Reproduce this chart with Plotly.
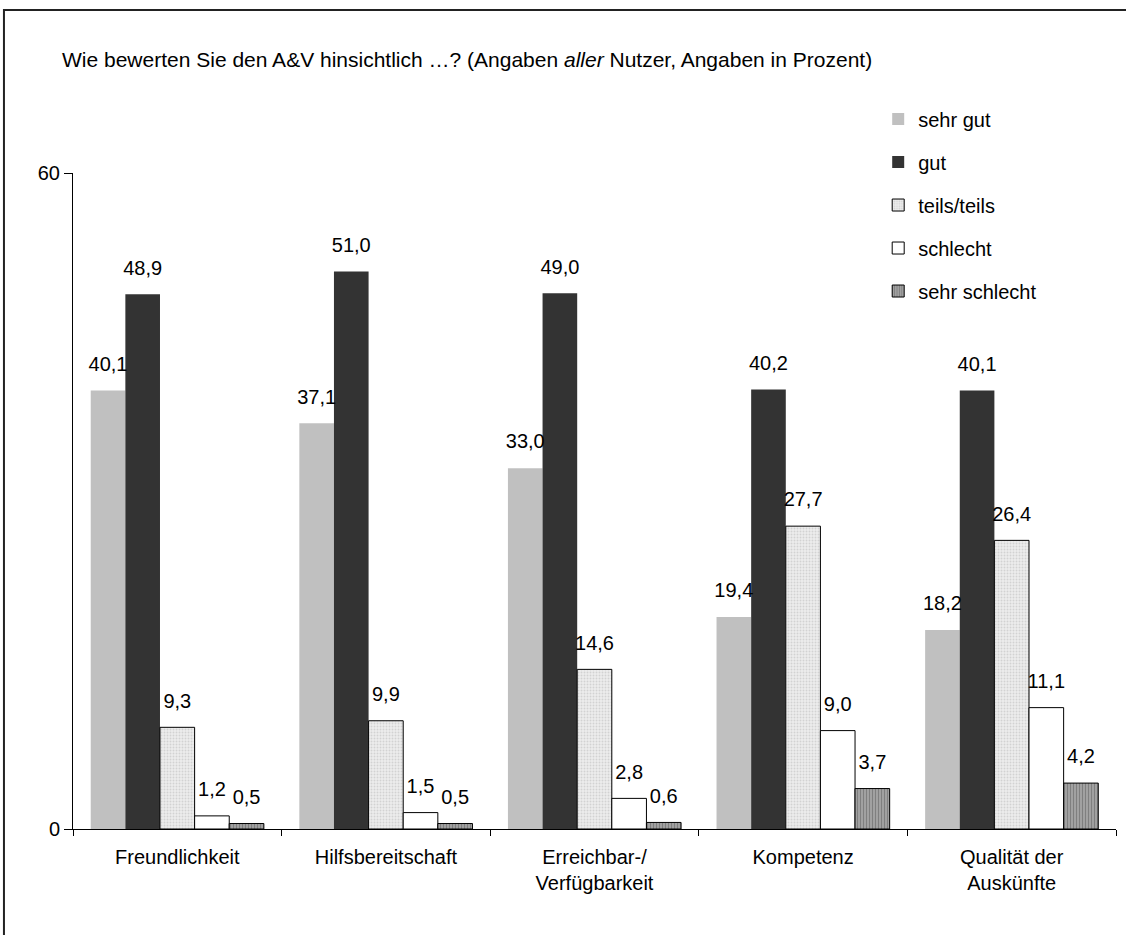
import plotly.graph_objects as go

categories = ["Freundlichkeit", "Hilfsbereitschaft", "Erreichbar-/<br>Verfügbarkeit",
              "Kompetenz", "Qualität der<br>Auskünfte"]
series_names = ["sehr gut", "gut", "teils/teils", "schlecht", "sehr schlecht"]
sehr_gut = [40.1, 37.1, 33.0, 19.4, 18.2]
gut = [48.9, 51.0, 49.0, 40.2, 40.1]
teils_teils = [9.3, 9.9, 14.6, 27.7, 26.4]
schlecht = [1.2, 1.5, 2.8, 9.0, 11.1]
sehr_schlecht = [0.5, 0.5, 0.6, 3.7, 4.2]
y_ticks = [0, 60]

FONT = "Arial, 'Liberation Sans', sans-serif"
GAP = 0.17

styles = [
    dict(color="#c0c0c0", line=dict(width=0)),
    dict(color="#333333", line=dict(width=0)),
    dict(color="#ececec", line=dict(color="black", width=1),
         pattern=dict(shape=".", fgcolor="#b8b8b8", bgcolor="#ececec", size=3, solidity=0.3)),
    dict(color="white", line=dict(color="black", width=1)),
    dict(color="#8a8a8a", line=dict(color="black", width=1),
         pattern=dict(shape="|", fgcolor="#5a5a5a", bgcolor="#a4a4a4", size=3, solidity=0.4)),
]

all_values = [sehr_gut, gut, teils_teils, schlecht, sehr_schlecht]

fig = go.Figure()
for i, (name, vals, style) in enumerate(zip(series_names, all_values, styles)):
    fig.add_trace(go.Bar(
        x=categories, y=vals, name=name, legendgroup=name,
        offsetgroup=str(i), marker=style, hoverinfo="skip",
    ))

# value labels, grouped side by side like the bars
for i, (name, vals) in enumerate(zip(series_names, all_values)):
    fig.add_trace(go.Scatter(
        x=categories, y=vals, mode="markers+text", showlegend=False,
        offsetgroup=str(i), hoverinfo="skip", cliponaxis=False,
        marker=dict(size=22, color="rgba(0,0,0,0)"),
        text=[f"{v:.1f}".replace(".", ",") for v in vals],
        textposition="top center",
        textfont=dict(family=FONT, size=20, color="black"),
    ))

fig.update_layout(
    width=1126, height=935,
    margin=dict(l=73, r=10, t=173, b=106),
    paper_bgcolor="white", plot_bgcolor="white",
    separators=",.",
    barmode="group", bargap=GAP, bargroupgap=0,
    scattermode="group", scattergap=GAP,
    font=dict(family=FONT, size=20, color="black"),
    showlegend=True,
    legend=dict(x=0.772, y=1.112, xanchor="left", yanchor="top",
                traceorder="grouped", tracegroupgap=14, itemwidth=30,
                font=dict(family=FONT, size=20, color="black"),
                bgcolor="rgba(0,0,0,0)"),
    xaxis=dict(showline=True, linecolor="black", linewidth=1,
               ticks="outside", tickson="boundaries", ticklen=6, tickcolor="black",
               ticklabelstandoff=10,
               showgrid=False, zeroline=False, fixedrange=True,
               tickfont=dict(family=FONT, size=20)),
    yaxis=dict(range=[0, 60], tickvals=y_ticks, ticktext=[str(v) for v in y_ticks],
               showline=True, linecolor="black", linewidth=1,
               ticks="outside", ticklen=8, tickcolor="black",
               showgrid=False, zeroline=False,
               tickfont=dict(family=FONT, size=20)),
    annotations=[dict(
        text="Wie bewerten Sie den A&amp;V hinsichtlich …? (Angaben <i>aller</i> Nutzer, Angaben in Prozent)",
        xref="paper", yref="paper", x=-0.0125, y=1.1723,
        xanchor="left", yanchor="middle", showarrow=False,
        font=dict(family=FONT, size=21, color="black"))],
    shapes=[dict(type="rect", xref="paper", yref="paper",
                 x0=-0.0662, y0=-0.2, x1=1.02, y1=1.2485,
                 line=dict(color="#222222", width=2), layer="below")],
)

fig.write_html("out.html")
